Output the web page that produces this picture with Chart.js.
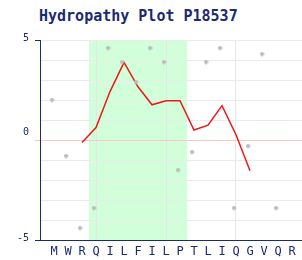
<!DOCTYPE html>
<html>
<head>
<meta charset="utf-8">
<script src="https://cdn.jsdelivr.net/npm/chart.js@4.4.0/dist/chart.umd.min.js"></script>
<style>
  html, body { margin: 0; padding: 0; background: #fff; }
  #wrap { position: relative; width: 302px; height: 260px; }
  #title {
    position: absolute; left: 39px; top: 9px;
    font: bold 15px "DejaVu Sans Mono", monospace; line-height: 15px;
    color: #1c2a6e; white-space: nowrap;
  }
  canvas { position: absolute; left: 0; top: 0; }
</style>
</head>
<body>
<div id="wrap">
  <div id="title">Hydropathy Plot P18537</div>
  <canvas id="hydroChart" width="302" height="260"></canvas>
</div>
<script>
// residues on the x axis
const residues = ["M","W","R","Q","I","L","F","I","L","P","T","L","I","Q","G","V","Q","R"];
// hydropathy of each residue (grey markers)
const hydropathy = [1.9,-0.9,-4.5,-3.5,4.5,3.8,2.8,4.5,3.8,-1.6,-0.7,3.8,4.5,-3.5,-0.4,4.2,-3.5,null];
// window average (red line)
const windowAvg = [null,null,-0.12,0.62,2.42,3.88,2.66,1.76,1.96,1.96,0.5,0.74,1.72,0.26,-1.54,null,null,null];
// shaded hydrophobic region (first and last residue index)
const region = [3, 9];
const yTicksShown = [5, 0, -5];
const vGrid = [3, 8, 13];

const navy = "#1c2a6e";

// grey diamond marker, drawn a little up and left of the point like the original
const marker = document.createElement("canvas");
marker.width = 9; marker.height = 9;
(function () {
  const c = marker.getContext("2d");
  c.fillStyle = "#bcbcbc";
  c.beginPath();
  c.moveTo(2.5, -0.3); c.lineTo(5.3, 2.5); c.lineTo(2.5, 5.3); c.lineTo(-0.3, 2.5);
  c.closePath(); c.fill();
})();

const bandPlugin = {
  id: "band",
  beforeDraw(chart) {
    const { ctx, chartArea, scales } = chart;
    const x1 = scales.x.getPixelForValue(region[0] - 0.5);
    const x2 = scales.x.getPixelForValue(region[1] + 0.5);
    ctx.save();
    ctx.fillStyle = "#d0ffd9";
    ctx.fillRect(x1, chartArea.top, x2 - x1, chartArea.bottom - chartArea.top);
    ctx.restore();
  }
};

new Chart(document.getElementById("hydroChart"), {
  type: "scatter",
  data: {
    datasets: [
      {
        label: "Hydropathy",
        data: hydropathy.map((v, i) => ({ x: i, y: v })),
        pointStyle: marker,
        pointRadius: 3,
        showLine: false
      },
      {
        label: "Window average",
        type: "line",
        data: windowAvg.map((v, i) => ({ x: i, y: v })),
        borderColor: "rgb(238,24,24)",
        borderWidth: 1.5,
        pointRadius: 0,
        tension: 0,
        fill: false
      }
    ]
  },
  options: {
    responsive: false,
    animation: false,
    layout: { autoPadding: false, padding: { top: 40, right: 0, bottom: 0, left: 0 } },
    plugins: { legend: { display: false }, tooltip: { enabled: false }, title: { display: false } },
    scales: {
      x: {
        type: "linear",
        min: -1,
        max: -1 + 262 / 14,
        afterBuildTicks: (axis) => { axis.ticks = residues.map((r, i) => ({ value: i })); },
        afterFit: (axis) => { axis.height = 20; axis.paddingLeft = 0; axis.paddingRight = 0; },
        ticks: {
          autoSkip: false,
          maxRotation: 0,
          padding: 5,
          color: navy,
          font: { family: "DejaVu Sans Mono", size: 12 },
          callback: (v) => residues[v]
        },
        grid: {
          drawTicks: false,
          color: (c) => vGrid.includes(c.tick && c.tick.value) ? "#e6e6e6" : "rgba(0,0,0,0)"
        },
        border: { color: navy, width: 1 }
      },
      y: {
        min: -5,
        max: 5,
        afterFit: (axis) => { axis.width = 40; axis.paddingTop = 0; axis.paddingBottom = 0; },
        ticks: {
          stepSize: 1,
          autoSkip: false,
          color: navy,
          padding: 6,
          labelOffset: -2,
          font: { family: "DejaVu Sans Mono", size: 10 },
          callback: (v) => {
            if (!yTicksShown.includes(v)) return "";
            return v === 0 ? ["0", ""] : String(v);
          }
        },
        grid: {
          tickLength: 5,
          color: (c) => c.tick && c.tick.value === 0 ? "#ffc4c4" : "#ebebeb",
          tickColor: (c) => {
            const v = c.tick && c.tick.value;
            if (v === 0) return "#ffc4c4";
            return (v === 5 || v === -5) ? navy : "rgba(0,0,0,0)";
          }
        },
        border: { color: navy, width: 1 }
      }
    }
  },
  plugins: [bandPlugin]
});
</script>
</body>
</html>
